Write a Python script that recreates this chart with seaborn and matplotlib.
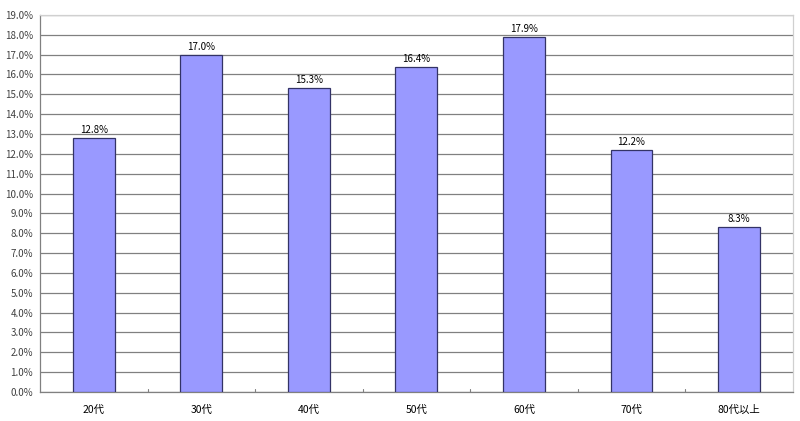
import pandas as pd
import numpy as np
import seaborn as sns
from matplotlib import pyplot as plt
from matplotlib.ticker import MultipleLocator, FuncFormatter

# Data
ages = ['20代', '30代', '40代', '50代', '60代', '70代', '80代以上']
shares = [12.8, 17.0, 15.3, 16.4, 17.9, 12.2, 8.3]

df = pd.DataFrame({'age': ages, 'share': shares})

sns.set_theme(style='white')
plt.rcParams['font.family'] = ['Noto Sans CJK JP', 'DejaVu Sans']

fig = plt.figure(figsize=(8, 4.21), dpi=100)
ax = fig.add_axes([0.05, 0.069, 0.941, 0.8955])

sns.barplot(data=df, x='age', y='share', ax=ax, color='#9999ff',
            saturation=1, width=0.39, edgecolor='#333366', linewidth=0.9,
            zorder=3)

ax.set_ylim(0, 19)
ax.set_xlim(-0.5, len(ages) - 0.5)
ax.yaxis.set_major_locator(MultipleLocator(1))
ax.yaxis.set_major_formatter(FuncFormatter(lambda v, p: '{:.1f}%'.format(v)))
ax.grid(axis='y', color='#808080', linewidth=0.9, zorder=0)

# value labels
for i, v in enumerate(shares):
    ax.text(i, v + 0.15, '{:.1f}%'.format(v), ha='center', va='bottom',
            fontsize=7, color='black')

ax.set_xlabel('')
ax.set_ylabel('')
ax.tick_params(axis='y', labelsize=7, labelcolor='#404040', length=3,
               direction='out', color='#808080', pad=2)
ax.tick_params(axis='x', labelsize=7.5, labelcolor='black', length=0, pad=9)

# category boundary ticks
for b in np.arange(0.5, len(ages) - 0.5, 1):
    ax.plot([b, b], [0, 0.15], color='#808080', linewidth=0.8, zorder=4)

for side in ['top', 'right']:
    ax.spines[side].set_color('#d0d0d0')
    ax.spines[side].set_linewidth(0.9)
for side in ['left', 'bottom']:
    ax.spines[side].set_color('#808080')
    ax.spines[side].set_linewidth(0.9)

fig.savefig('out.png', dpi=100)
